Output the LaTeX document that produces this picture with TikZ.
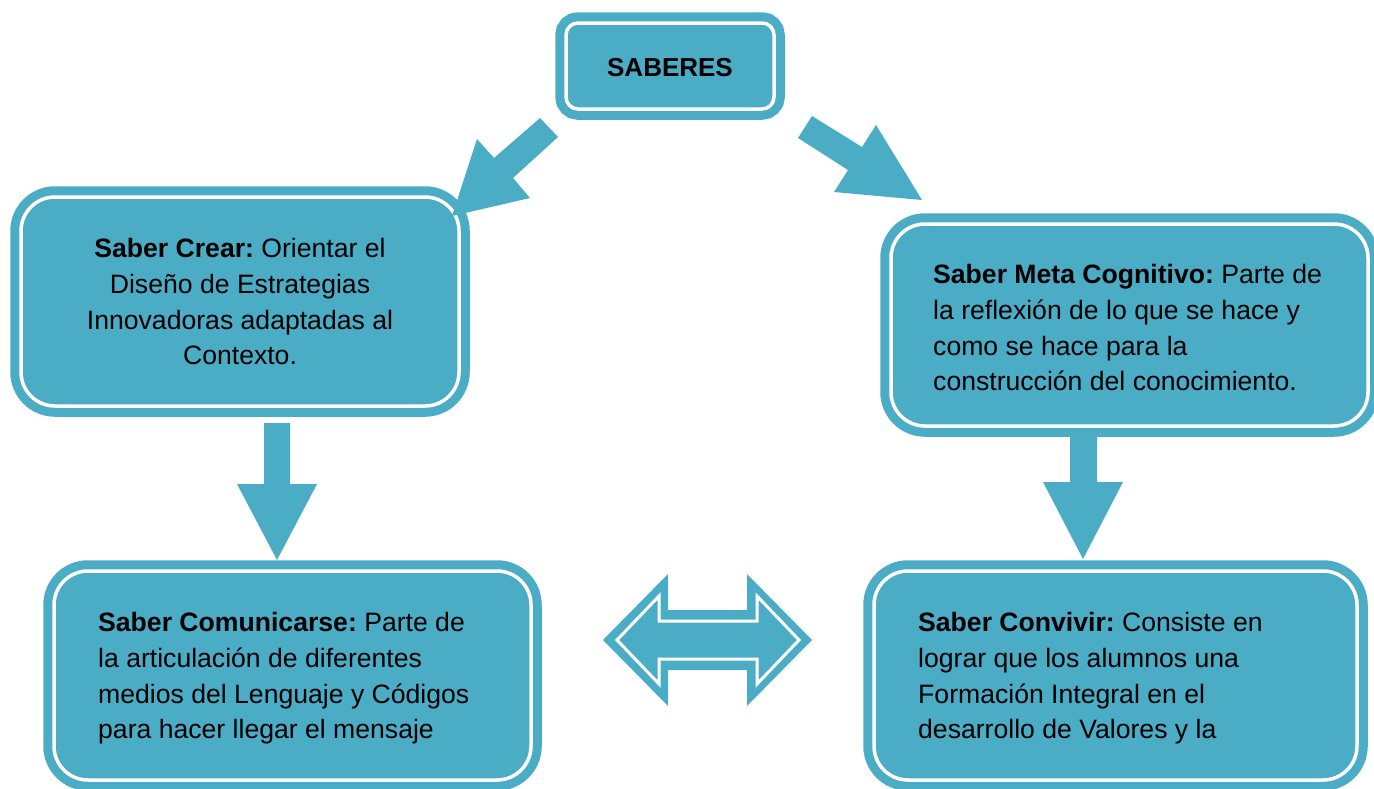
\documentclass[tikz,border=0pt]{standalone}
\usepackage{fontspec}
\setmainfont{Liberation Sans}
\definecolor{aqua}{HTML}{4BACC6}
\frenchspacing
\begin{document}
\begin{tikzpicture}[x=1pt,y=-1pt,
  box/.style={shape=rectangle, fill=aqua, draw=aqua, line width=9pt, double=white, double distance=3.5pt, rounded corners=34pt, inner sep=0pt},
  txt/.style={inner sep=0pt, font=\fontsize{26.6}{35.8}\selectfont, text=black},
  blk/.style={fill=aqua, draw=none}]
\useasboundingbox (0,0) rectangle (1374,788);
% boxes
\node[box, rounded corners=12pt, minimum width=208pt, minimum height=86pt] (saberes) at (670,66) {};
\node[box, minimum width=438pt, minimum height=209pt] (crear) at (240,301.5) {};
\node[box, minimum width=477pt, minimum height=202pt] (meta) at (1129.5,325) {};
\node[box, minimum width=477pt, minimum height=209pt] (comun) at (292.5,675.5) {};
\node[box, minimum width=483pt, minimum height=209pt] (convivir) at (1115.5,675.5) {};
% texts
\node[txt, font=\fontsize{26}{30}\selectfont\bfseries, anchor=base] (saberesT) at (670,76) {SABERES};
\node[txt, align=center, anchor=north] (crearT) at (240,238) {\textbf{Saber Crear:} Orientar el\\Diseño de Estrategias\\Innovadoras adaptadas al\\Contexto.};
\node[txt, align=left, anchor=north west] (metaT) at (933,264) {\textbf{Saber Meta Cognitivo:} Parte de\\la reflexión de lo que se hace y\\como se hace para la\\construcción del conocimiento.};
\node[txt, align=left, anchor=north west] (comunT) at (98,612) {\textbf{Saber Comunicarse:} Parte de\\la articulación de diferentes\\medios del Lenguaje y Códigos\\para hacer llegar el mensaje};
\node[txt, align=left, anchor=north west] (convivirT) at (918,612) {\textbf{Saber Convivir:} Consiste en\\lograr que los alumnos una\\Formación Integral en el\\desarrollo de Valores y la};
% block arrows
\fill[blk] (540,118) -- (494,158) -- (477,139) -- (452,216) -- (530,198) -- (513,178) -- (558,137) -- cycle;
\fill[blk] (812,116) -- (862,147) -- (876,125) -- (922,200) -- (834,192) -- (848,170) -- (798,138) -- cycle;
\fill[blk] (264,423) -- (290,423) -- (290,484) -- (317,484) -- (277,560) -- (237,484) -- (264,484) -- cycle;
\fill[blk] (1070,437) -- (1097,437) -- (1097,482) -- (1123,482) -- (1083,559) -- (1043,482) -- (1070,482) -- cycle;
% double arrow
\fill[blk] (603,640) -- (668,574) -- (668,610) -- (747,610) -- (747,574) -- (812,640) -- (747,706) -- (747,670) -- (668,670) -- (668,706) -- cycle;
\filldraw[fill=aqua, draw=white, line width=3pt, line join=miter] (617,640) -- (659,596) -- (659,621) -- (757,621) -- (757,596) -- (799,640) -- (757,684) -- (757,659) -- (659,659) -- (659,684) -- cycle;
\end{tikzpicture}
\end{document}
